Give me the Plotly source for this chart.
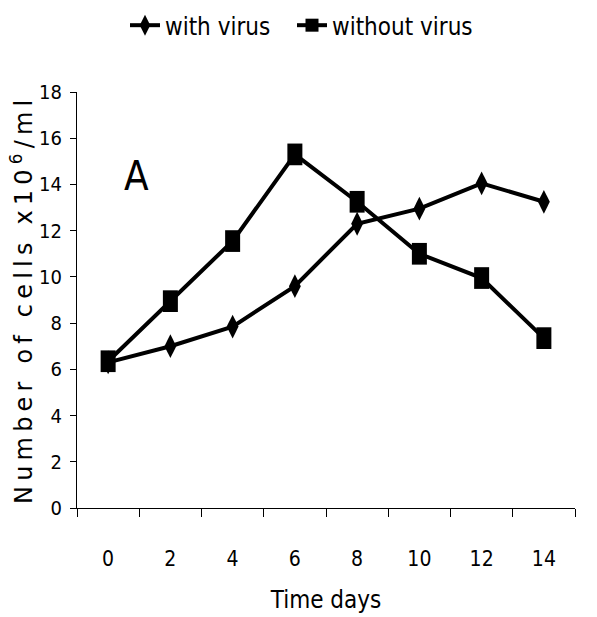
import plotly.graph_objects as go

days = ["0", "2", "4", "6", "8", "10", "12", "14"]
with_virus = [6.3, 7.0, 7.85, 9.6, 12.3, 12.95, 14.05, 13.25]
without_virus = [6.35, 8.95, 11.55, 15.3, 13.25, 11.0, 9.95, 7.35]
y_ticks = [0, 2, 4, 6, 8, 10, 12, 14, 16, 18]

NARROW = "DejaVu Sans Condensed, Liberation Sans Narrow, sans-serif"

fig = go.Figure()

# data traces
fig.add_trace(go.Scatter(
    x=days, y=with_virus, mode="lines+markers", showlegend=False,
    line=dict(color="black", width=4),
    marker=dict(symbol="diamond-tall", size=17, color="black"),
    cliponaxis=False,
))
fig.add_trace(go.Scatter(
    x=days, y=without_virus, mode="lines+markers", showlegend=False,
    line=dict(color="black", width=4),
    marker=dict(symbol="line-ns", size=15.5, color="black",
                line=dict(color="black", width=15)),
    cliponaxis=False,
))
# legend entries
fig.add_trace(go.Scatter(
    x=[None], y=[None], mode="lines+markers", name="with virus",
    line=dict(color="black", width=4), legend="legend",
    marker=dict(symbol="diamond-tall", size=15, color="black"),
))
fig.add_trace(go.Scatter(
    x=[None], y=[None], mode="lines+markers", name="without virus",
    line=dict(color="black", width=4), legend="legend2",
    marker=dict(symbol="square", size=13, color="black"),
))

legend_common = dict(
    orientation="h", xref="container", xanchor="left",
    y=0.995, yanchor="top", yref="container",
    font=dict(size=24, family=NARROW), itemwidth=30,
    bgcolor="rgba(0,0,0,0)",
)

fig.update_layout(
    width=597, height=617,
    margin=dict(l=77, r=22, t=92, b=109),
    paper_bgcolor="white", plot_bgcolor="white",
    font=dict(family=NARROW, color="black"),
    legend=dict(x=125 / 597, **legend_common),
    legend2=dict(x=292 / 597, **legend_common),
    xaxis=dict(
        type="category", categoryorder="array", categoryarray=days,
        range=[-0.5, 7.5], tickson="boundaries", automargin=False,
        showline=True, linecolor="black", linewidth=1,
        ticks="outside", ticklen=8, tickcolor="black", tickwidth=1,
        showgrid=False, zeroline=False,
        ticklabelstandoff=32,
        tickfont=dict(size=21, family=NARROW),
        title=dict(text="Time days", font=dict(size=24, family=NARROW), standoff=20),
    ),
    yaxis=dict(
        range=[0, 18], tickvals=y_ticks, automargin=False,
        showline=True, linecolor="black", linewidth=1,
        ticks="outside", ticklen=6, tickcolor="black", tickwidth=1,
        showgrid=False, zeroline=False,
        ticklabelstandoff=4,
        tickfont=dict(size=20, family=NARROW),
    ),
    annotations=[
        dict(
            text="A", x=0.45, y=14.35, xref="x", yref="y",
            showarrow=False, font=dict(size=40, family=NARROW),
        ),
        dict(
            text='<span style="letter-spacing:5.2px">Number of cells x10<sup>6</sup>/ml</span>',
            x=0, y=0.5, xref="paper", yref="paper",
            xanchor="center", yanchor="middle", xshift=-55, yshift=0,
            textangle=-90, showarrow=False,
            font=dict(size=24, family="DejaVu Sans, Verdana, sans-serif"),
        ),
    ],
)

fig.write_html("out.html")
